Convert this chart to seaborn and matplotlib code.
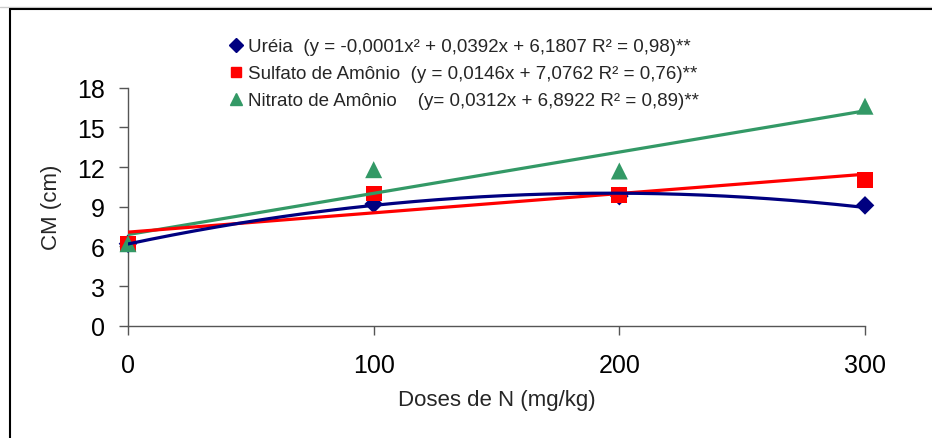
import numpy as np
import pandas as pd
import matplotlib
matplotlib.use("Agg")
import matplotlib.pyplot as plt
from matplotlib.lines import Line2D
import seaborn as sns

# ---- data ----
doses = [0, 100, 200, 300]
ureia = [6.2, 9.2, 9.8, 9.1]
sulfato = [6.2, 10.0, 9.9, 11.0]
nitrato = [6.2, 11.8, 11.7, 16.6]

# trend line coefficients shown in the legend (highest power first)
coef_ureia = [-0.0001, 0.0392, 6.1807]
coef_sulfato = [0.0146, 7.0762]
coef_nitrato = [0.0312, 6.8922]

labels = [
    "Uréia  (y = -0,0001x² + 0,0392x + 6,1807 R² = 0,98)**",
    "Sulfato de Amônio  (y = 0,0146x + 7,0762 R² = 0,76)**",
    "Nitrato de Amônio    (y= 0,0312x + 6,8922 R² = 0,89)**",
]
yticks = [0, 3, 6, 9, 12, 15, 18]
xticks = [0, 100, 200, 300]

colors = ["#000080", "#FF0000", "#339966"]
markers = ["D", "s", "^"]
msizes = [90, 130, 150]

sns.set_theme(style="white")
plt.rcParams["font.family"] = ["Liberation Sans", "DejaVu Sans"]

fig = plt.figure(figsize=(9.32, 4.39), dpi=100)
ax = fig.add_axes([128 / 932, 112.3 / 439, (865 - 128) / 932, (327 - 89) / 439])

xs = np.linspace(0, 300, 301)
fits = [np.polyval(coef_ureia, xs), np.polyval(coef_sulfato, xs), np.polyval(coef_nitrato, xs)]
series = [ureia, sulfato, nitrato]

# markers
for vals, c, m, s in zip(series, colors, markers, msizes):
    sns.scatterplot(x=doses, y=vals, color=c, marker=m, s=s, edgecolor="none",
                    ax=ax, clip_on=False, zorder=3)

# trend lines
for fit, c, z in zip(fits, colors, [5, 4, 3.5]):
    sns.lineplot(x=xs, y=fit, color=c, lw=2.3, ax=ax, zorder=z)

ax.set_xlim(0, 300)
ax.set_ylim(0, 18)
ax.set_xticks(xticks)
ax.set_yticks(yticks)
ax.tick_params(axis="both", which="both", direction="out", length=6.5, width=1,
               color="#555555", labelsize=18, labelcolor="black")
ax.tick_params(axis="x", pad=13.5)
ax.tick_params(axis="y", pad=10)
ax.tick_params(left=True, bottom=True)
for side in ["top", "right"]:
    ax.spines[side].set_visible(False)
for side in ["left", "bottom"]:
    ax.spines[side].set_color("#555555")
    ax.spines[side].set_linewidth(1)
ax.set_xlabel("Doses de N (mg/kg)", fontsize=16, labelpad=8)
ax.set_ylabel("CM (cm)", fontsize=16, labelpad=11)
ax.grid(False)

handles = [Line2D([], [], ls="none", marker=m, color=c, markersize=ms)
           for c, m, ms in zip(colors, ["D", "s", "^"], [7, 7.5, 8.5])]
leg = fig.legend(handles, labels, loc="upper left", bbox_to_anchor=(220 / 932, 1 - 30 / 439),
                 frameon=False, fontsize=13.5, handlelength=0.7, handletextpad=0.3,
                 labelspacing=0.52, borderpad=0)

# figure border (top and left, as in reference)
fig.add_artist(Line2D([0, 1], [1 - 7.5 / 439, 1 - 7.5 / 439], color="#cccccc", lw=1,
                      transform=fig.transFigure))
fig.add_artist(Line2D([10 / 932, 1], [1 - 9.5 / 439, 1 - 9.5 / 439], color="black", lw=1.5,
                      transform=fig.transFigure))
fig.add_artist(Line2D([10 / 932, 10 / 932], [0, 1 - 9.5 / 439], color="black", lw=1.5,
                      transform=fig.transFigure))

fig.savefig("out.png", dpi=100)
